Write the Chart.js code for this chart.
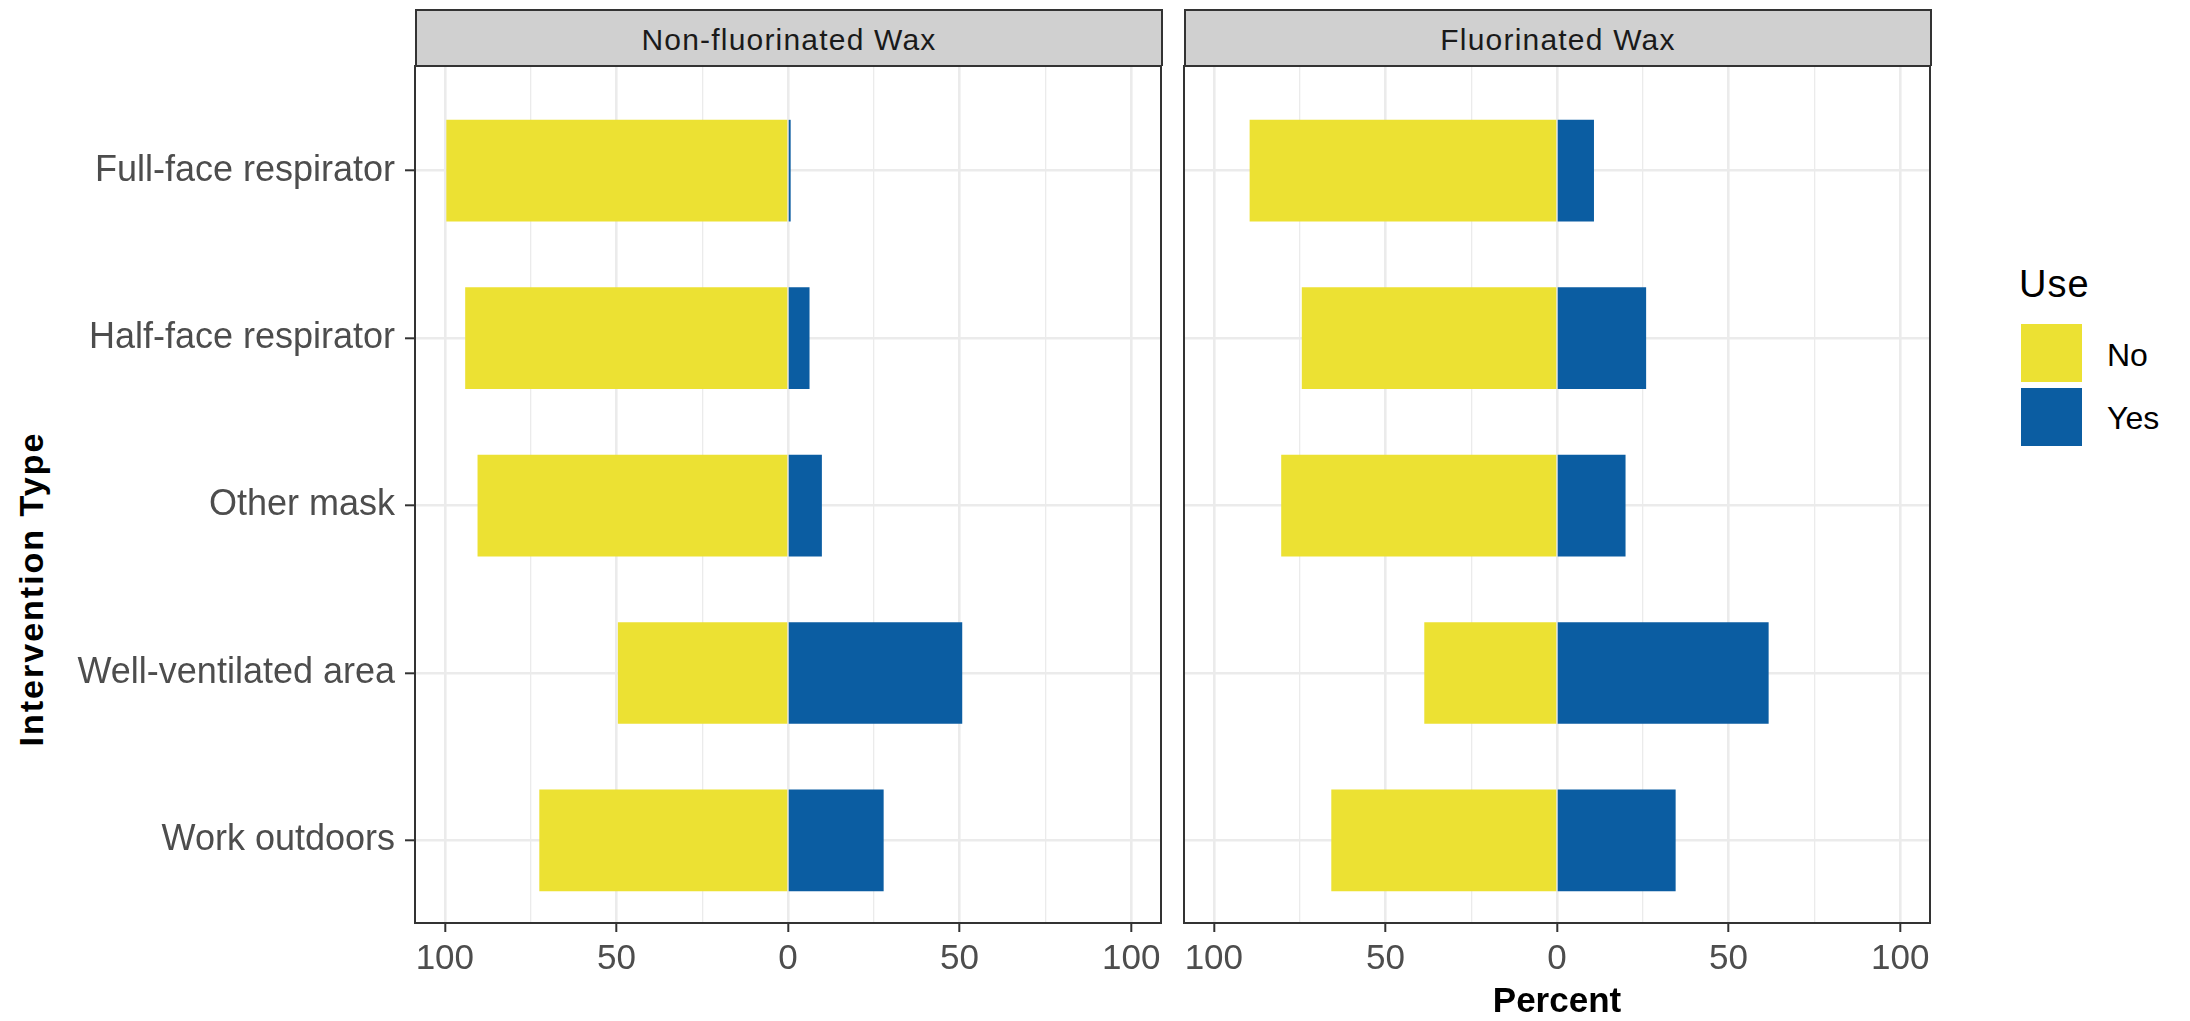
<!DOCTYPE html>
<html>
<head>
<meta charset="utf-8">
<script src="https://cdn.jsdelivr.net/npm/chart.js@4"></script>
<style>
body{margin:0;background:#fff;width:2190px;height:1021px;overflow:hidden;position:relative;font-family:"Liberation Sans",Arial,sans-serif}
canvas{position:absolute;top:0}
.strip{position:absolute;top:9px;height:55px;width:744px;background:#D0D0D0;border:2px solid #333;border-bottom:none;color:#1A1A1A;font-size:30px;line-height:57px;text-align:center;letter-spacing:1.2px}
.ytitle{position:absolute;left:31px;top:589px;transform:translate(-50%,-50%) rotate(-90deg);font-weight:bold;font-size:34px;line-height:1;white-space:nowrap;letter-spacing:2px;color:#000}
.leg{position:absolute;line-height:1;color:#000;white-space:nowrap}
.key{position:absolute;left:2021px;width:61px;height:58px}
</style>
</head>
<body>
<div class="strip" style="left:415px">Non-fluorinated Wax</div>
<div class="strip" style="left:1184px">Fluorinated Wax</div>
<div class="ytitle">Intervention Type</div>
<canvas id="panel1" width="1170" height="1021" style="left:0"></canvas>
<canvas id="panel2" width="770" height="1021" style="left:1175px"></canvas>
<div class="leg" style="left:2019px;top:265px;font-size:38px;letter-spacing:1px">Use</div>
<div class="key" style="top:324px;background:#ECE133"></div>
<div class="key" style="top:388px;background:#0B5DA2"></div>
<div class="leg" style="left:2107px;top:339px;font-size:32px">No</div>
<div class="leg" style="left:2107px;top:402px;font-size:32px">Yes</div>
<script>
// categories, top to bottom
const categories=["Full-face respirator","Half-face respirator","Other mask","Well-ventilated area","Work outdoors"]
const panels=["Non-fluorinated Wax","Fluorinated Wax"]

// percent "No" (drawn to the left) and "Yes" (drawn to the right)
const nonFluorNo=[99.4,93.9,90.3,49.4,72.3]
const nonFluorYes=[0.6,6.1,9.7,50.6,27.7]
const fluorNo=[89.4,74.2,80.2,38.5,65.6]
const fluorYes=[10.6,25.8,19.8,61.5,34.4]

const xTicks=[-100,-75,-50,-25,0,25,50,75,100]

const yellow="#ECE133"
const blue="#0B5DA2"
const gridCol="#EBEBEB"
const fontFam='"Liberation Sans", Arial, sans-serif'

const panelBox={
id:"panelBox",
afterDraw(chart){
let a=chart.chartArea,c=chart.ctx
c.save()
c.strokeStyle="#333"
c.lineWidth=2
c.strokeRect(a.left,a.top,a.right-a.left,a.bottom-a.top)
c.restore()
}
}

function major(v){return v%50===0}

function makePanel(id,no,yes,first){
return new Chart(document.getElementById(id),{
type:"bar",
data:{
datasets:[
{label:"No",data:no.map((v,i)=>({x:-v,y:i+1})),backgroundColor:yellow,borderWidth:0,inflateAmount:0.6,barPercentage:0.6,categoryPercentage:1},
{label:"Yes",data:yes.map((v,i)=>({x:v,y:i+1})),backgroundColor:blue,borderWidth:0,inflateAmount:0.6,barPercentage:0.6,categoryPercentage:1}
]
},
options:{
indexAxis:"y",
responsive:false,
animation:false,
layout:{padding:{top:66,right:first?9:15,left:0,bottom:0}},
plugins:{legend:{display:false},tooltip:{enabled:false}},
scales:{
x:{
type:"linear",stacked:true,min:-108.7,max:108.7,
afterBuildTicks:ax=>{ax.ticks=xTicks.map(v=>({value:v}))},
afterFit:ax=>{ax.height=98},
border:{display:false},
grid:{
color:gridCol,
lineWidth:c=>c.tick&&major(c.tick.value)?2.6:1.3,
drawTicks:true,tickLength:9,tickWidth:2,
tickColor:c=>c.tick&&major(c.tick.value)?"#333":"rgba(0,0,0,0)"
},
ticks:{
autoSkip:false,maxRotation:0,padding:6,color:"#4D4D4D",
font:{family:fontFam,size:35},
callback:v=>major(v)?String(Math.abs(v)):""
},
title:{
display:!first,text:"Percent",color:"#000",
font:{family:fontFam,size:35,weight:"bold",lineHeight:1},
padding:{top:0,bottom:1}
}
},
y:{
type:"linear",stacked:true,reverse:true,min:0.375,max:5.493,
offset:false,
afterBuildTicks:ax=>{ax.ticks=categories.map((c,i)=>({value:i+1}))},
afterFit:ax=>{ax.width=first?415:9},
border:{display:false},
grid:{
offset:false,
color:gridCol,lineWidth:2.6,
drawTicks:first,tickLength:10,tickWidth:2,tickColor:"#333"
},
ticks:{
display:first,padding:10,color:"#4D4D4D",
font:{family:fontFam,size:36},
callback:v=>categories[v-1]
}
}
}
},
plugins:[panelBox]
})
}

makePanel("panel1",nonFluorNo,nonFluorYes,true)
makePanel("panel2",fluorNo,fluorYes,false)
</script>
</body>
</html>
